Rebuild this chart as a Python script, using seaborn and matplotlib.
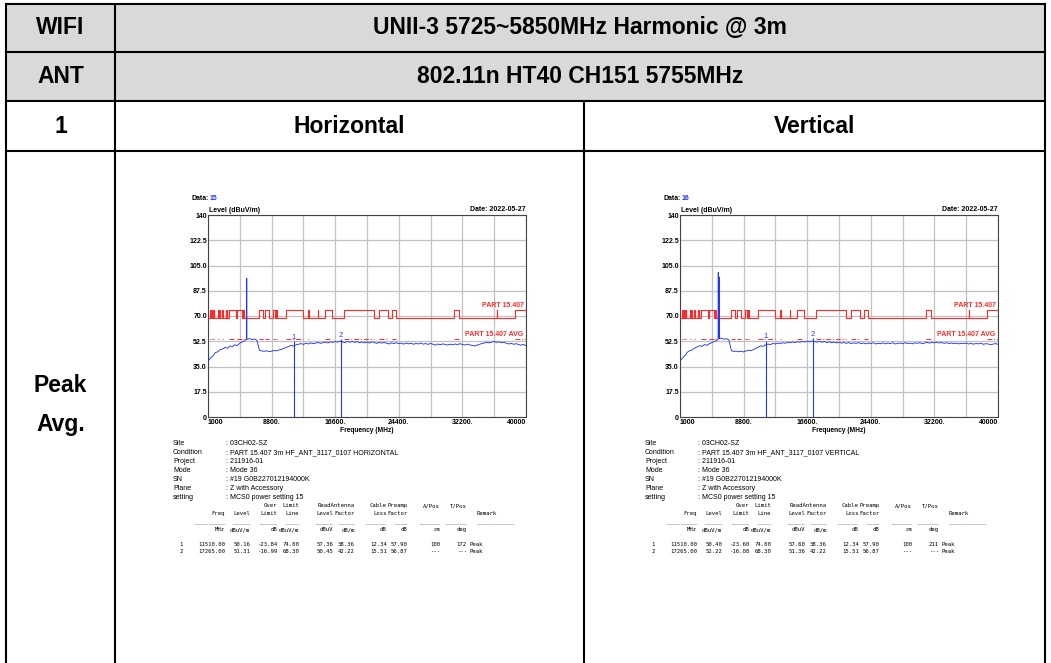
import numpy as np
import pandas as pd
import matplotlib
matplotlib.use("Agg")
import matplotlib.pyplot as plt
from matplotlib.patches import Rectangle
import seaborn as sns

# ---------------- data ----------------
band_title = "UNII-3 5725~5850MHz Harmonic @ 3m"
mode_title = "802.11n HT40 CH151 5755MHz"
row_labels = ["WIFI", "ANT", "1"]
pol_labels = ["Horizontal", "Vertical"]
det_labels = ["Peak", "Avg."]
data_ids = ["15", "16"]
test_date = "2022-05-27"

x_ticks = [1000, 8800, 16600, 24400, 32200, 40000]
x_ticklabels = ["1000", "8800.", "16600.", "24400.", "32200.", "40000"]
x_minor = [4900, 12700, 20500, 28300, 36100]
y_ticks = [0, 17.5, 35, 52.5, 70, 87.5, 105, 122.5, 140]
y_ticklabels = ["0", "17.5", "35.0", "52.5", "70.0", "87.5", "105.0", "122.5", "140"]

# restricted bands (MHz) where the PART 15.407 limit steps up
restricted_lo = [1300, 1435, 1645.5, 1660, 1718.8, 2200, 2310, 2483.5, 2690, 3260, 3332,
                 3345.8, 3600, 4500, 5350, 7250, 8025, 9000, 9300, 10600, 13250, 14470,
                 15350, 17700, 22010, 23600, 31200, 36430, 38600]
restricted_hi = [1427, 1626.5, 1646.5, 1710, 1722.2, 2300, 2390, 2500, 2900, 3267, 3339,
                 3358, 4400, 5150, 5460, 7750, 8500, 9200, 9500, 12700, 13400, 14500,
                 16200, 21400, 23120, 24000, 31800, 36500, 40000]
limit_restricted = 74.0
limit_other = 68.3
limit_avg = 54.0

trace_h = [38.5, 41.0, 42.3, 44.6, 45.2, 46.8, 47.1, 48.3, 47.6, 49.2, 48.8,
           50.1, 49.5, 51.2, 52.0, 52.8, 53.9, 54.3, 53.6, 54.1, 53.2,
           46.2, 45.8, 45.5, 45.9, 45.3, 45.6, 46.1, 45.8, 46.4, 46.9,
           47.5, 48.3, 48.9, 49.6, 49.2, 50.1,
           50.4, 50.9, 50.3, 51.1, 50.6, 51.4, 50.8, 51.2, 51.7, 51.0,
           51.6, 51.9, 51.3, 52.1, 51.7, 52.4, 51.9, 52.6, 52.0, 51.6,
           52.3, 51.8, 52.4, 51.7, 52.2, 51.5, 52.0, 51.4, 51.9, 51.3,
           52.1, 51.6, 51.0, 51.8, 51.2, 51.7, 51.1, 50.6, 51.4, 50.9,
           51.5, 50.8, 51.2, 50.5, 51.3, 50.7, 51.1, 50.4, 51.0, 50.6,
           51.2, 50.5, 50.9, 50.3, 51.0, 50.4, 49.8, 50.6, 50.1, 50.7,
           50.2, 49.9, 50.5, 50.0, 50.6, 50.2, 50.8, 50.3, 49.9, 50.5,
           50.0, 49.6, 49.2, 49.8, 50.4, 50.9, 51.3, 51.8, 51.4, 52.0,
           52.3, 51.7, 52.1, 51.5, 51.8, 51.1, 50.6, 51.0, 50.4, 50.8,
           50.2, 49.8, 50.3, 49.4]
trace_v = [38.9, 40.8, 42.6, 44.9, 46.0, 46.5, 47.8, 48.6, 49.4, 48.9, 50.2,
           49.7, 50.8, 51.5, 52.3, 53.1, 54.2, 54.6, 53.9, 54.3, 53.4,
           46.0, 45.4, 45.7, 45.2, 45.6, 45.1, 45.8, 46.3, 46.0, 46.7,
           47.6, 48.4, 49.3, 49.0, 50.0, 50.5,
           50.2, 51.0, 50.6, 51.3, 50.8, 51.5, 51.1, 51.8, 51.4, 52.0,
           51.6, 52.2, 51.8, 52.4, 52.0, 52.6, 52.1, 52.7, 52.2, 51.9,
           52.5, 51.8, 52.3, 51.6, 52.1, 51.5, 51.9, 51.3, 51.8, 51.2,
           51.7, 51.0, 51.6, 50.9, 51.4, 51.0, 51.6, 50.8, 51.3, 50.7,
           51.2, 50.9, 51.5, 50.6, 51.1, 50.8, 51.4, 50.7, 51.2, 50.9,
           51.5, 50.6, 51.0, 51.3, 50.8, 51.5, 50.9, 51.2, 50.7, 51.4,
           51.0, 51.6, 50.8, 51.3, 51.7, 51.2, 51.8, 51.4, 51.9, 51.3,
           51.6, 51.0, 51.5, 50.9, 51.3, 50.8, 51.2, 50.7, 51.1, 50.9,
           51.3, 50.6, 51.0, 50.5, 50.9, 50.7, 51.1, 50.4, 50.8, 50.6,
           50.2, 50.5, 50.9, 50.4]
spike_h_freq = [5735, 5750, 5765]
spike_h_level = [54.0, 96.2, 54.4]
spike_v_freq = [5680, 5695, 5710, 5785, 5800, 5815]
spike_v_level = [53.8, 100.3, 54.6, 54.9, 97.0, 54.5]

marker_freq = [11510.00, 17265.00]
marker_level_h = [50.16, 51.31]
marker_level_v = [50.40, 52.22]

info_labels = ["Site", "Condition", "Project", "Mode", "SN", "Plane", "setting"]
info_values_h = ["03CH02-SZ", "PART 15.407 3m HF_ANT_3117_0107 HORIZONTAL", "211916-01",
                 "Mode 36", "#19 G0B227012194000K", "Z with Accessory", "MCS0 power setting 15"]
info_values_v = ["03CH02-SZ", "PART 15.407 3m HF_ANT_3117_0107 VERTICAL", "211916-01",
                 "Mode 36", "#19 G0B227012194000K", "Z with Accessory", "MCS0 power setting 15"]

head1 = ["", "", "Over", "Limit", "", "ReadAntenna", "Cable", "Preamp", "A/Pos", "T/Pos"]
head2 = ["Freq", "Level", "Limit", "Line", "Level", "Factor", "Loss", "Factor", "", ""]
units = ["MHz", "dBuV/m", "dB", "dBuV/m", "dBuV", "dB/m", "dB", "dB", "cm", "deg"]
rows_h = [["11510.00", "50.16", "-23.84", "74.00", "57.36", "38.36", "12.34", "57.90", "100", "172"],
          ["17265.00", "51.31", "-16.99", "68.30", "50.45", "42.22", "15.51", "56.87", "---", "---"]]
rows_v = [["11510.00", "50.40", "-23.60", "74.00", "57.60", "38.36", "12.34", "57.90", "100", "211"],
          ["17265.00", "52.22", "-16.08", "68.30", "51.36", "42.22", "15.51", "56.87", "---", "---"]]
row_idx = ["1", "2"]
remarks = ["Peak", "Peak"]

# ---------------- style ----------------
sns.set_style("white")
plt.rcParams["font.family"] = ["Liberation Sans", "DejaVu Sans"]
plt.rcParams["text.color"] = "black"
plt.rcParams["axes.labelcolor"] = "black"
plt.rcParams["xtick.color"] = "black"
plt.rcParams["ytick.color"] = "black"

W, H = 1051, 663
fig = plt.figure(figsize=(W / 100, H / 100), dpi=100)
bg = fig.add_axes([0, 0, 1, 1])
bg.set_xlim(0, W)
bg.set_ylim(H, 0)
bg.axis("off")

# table
L, R, C1, C2 = 6, 1045, 115, 583.5
bg.add_patch(Rectangle((L, 4), R - L, 97, facecolor="#d9d9d9", edgecolor="none", zorder=0))
lw_t = 1.5
for y in [4, 52, 101, 151]:
    bg.plot([L, R], [y, y], color="black", lw=lw_t, solid_capstyle="projecting")
for x in [L, C1, R]:
    bg.plot([x, x], [4, H + 2], color="black", lw=lw_t, solid_capstyle="projecting")
bg.plot([C2, C2], [101, H + 2], color="black", lw=lw_t)

hfs = 16.5
hkw = dict(ha="center", va="center", fontsize=hfs, fontweight="bold", color="black")
cx_left = (L + C1) / 2
bg.text(cx_left, 28, row_labels[0], **hkw)
bg.text((C1 + R) / 2, 28, band_title, **hkw)
bg.text(cx_left, 76.5, row_labels[1], **hkw)
bg.text((C1 + R) / 2, 76.5, mode_title, **hkw)
bg.text(cx_left, 126.5, row_labels[2], **hkw)
bg.text((C1 + C2) / 2, 126.5, pol_labels[0], **hkw)
bg.text((C2 + R) / 2, 126.5, pol_labels[1], **hkw)
bg.text(cx_left, 385, det_labels[0], **hkw)
bg.text(cx_left, 424, det_labels[1], **hkw)

blue = "#2438f0"
red = "#ff2a2a"
grid_c = "#c2c2c2"
sfs = 5
mfs = 4.1


def panel(dx, trace, sp_f, sp_l, m_level, data_id, info_vals, rows):
    x0, x1, y0, y1 = 208 + dx, 526 + dx, 215, 417
    ax = fig.add_axes([x0 / W, 1 - y1 / H, (x1 - x0) / W, (y1 - y0) / H])
    ax.set_facecolor("white")

    freqs = np.linspace(1000, 40000, len(trace))
    f_all = np.concatenate([freqs, sp_f])
    l_all = np.concatenate([trace, sp_l])
    order = np.argsort(f_all, kind="stable")
    df = pd.DataFrame({"freq": f_all[order], "level": l_all[order]})

    # limit line (steps)
    xs, ys = [1000.0], [limit_other]
    for lo, hi in zip(restricted_lo, restricted_hi):
        xs += [lo, hi]
        ys += [limit_restricted, limit_other]
    sns.lineplot(x=xs, y=ys, ax=ax, color=red, lw=0.8, drawstyle="steps-post",
                 estimator=None, sort=False, zorder=3)
    # avg limit segments
    for lo, hi in zip(restricted_lo, restricted_hi):
        ax.hlines(limit_avg, lo, hi, colors=red, lw=0.7, linestyles=(0, (5, 2, 1, 2)), zorder=3)

    sns.lineplot(data=df, x="freq", y="level", ax=ax, color=blue, lw=0.65,
                 estimator=None, sort=False, zorder=4)

    for i, (mf, ml) in enumerate(zip(marker_freq, m_level)):
        ax.vlines(mf, 0, ml + 2.5, colors=blue, lw=0.8, zorder=4)
        ax.text(mf, ml + 2.8, str(i + 1), color=blue, fontsize=5.5, ha="center", va="bottom", zorder=5)

    ax.text(39700, 77.1, "PART 15.407", color=red, fontsize=sfs, fontweight="bold",
            ha="right", va="center")
    ax.text(39700, 57.0, "PART 15.407 AVG", color=red, fontsize=sfs, fontweight="bold",
            ha="right", va="center")

    ax.set_xlim(1000, 40000)
    ax.set_ylim(0, 140)
    ax.set_xticks(x_ticks)
    ax.set_xticklabels(x_ticklabels)
    ax.set_xticks(x_minor, minor=True)
    ax.set_yticks(y_ticks)
    ax.set_yticklabels(y_ticklabels)
    ax.grid(True, which="both", color=grid_c, lw=0.9)
    ax.set_axisbelow(True)
    ax.tick_params(axis="both", which="both", length=0, labelsize=sfs, colors="black")
    ax.tick_params(axis="x", pad=1.5)
    ax.tick_params(axis="y", pad=0.8)
    for t in ax.get_xticklabels() + ax.get_yticklabels():
        t.set_fontweight("bold")
    xt = ax.get_xticklabels()
    xt[0].set_ha("left")
    xt[-1].set_ha("right")
    ax.set_xlabel("")
    ax.set_ylabel("")
    for s in ax.spines.values():
        s.set_color("#444444")
        s.set_linewidth(0.8)

    # header texts
    bg.text(191 + dx, 198, "Data:", fontsize=sfs, fontweight="bold", ha="left", va="center")
    bg.text(210 + dx, 198, data_id, fontsize=sfs, fontweight="bold", color=blue, ha="left", va="center")
    bg.text(209 + dx, 210.5, "Level (dBuV/m)", fontsize=sfs, fontweight="bold", ha="left", va="center")
    bg.text(526 + dx, 209.5, "Date: " + test_date, fontsize=sfs, fontweight="bold", ha="right", va="center")
    bg.text(367 + dx, 430, "Frequency (MHz)", fontsize=4.8, fontweight="bold", ha="center", va="center")

    # info block
    for k, (lab, val) in enumerate(zip(info_labels, info_vals)):
        yy = 443.3 + k * 9.07
        bg.text(173 + dx, yy, lab, fontsize=sfs, ha="left", va="center")
        bg.text(226 + dx, yy, ": " + val, fontsize=sfs, ha="left", va="center")

    # result table (monospace)
    mono = dict(fontsize=mfs, family="DejaVu Sans Mono", va="center")
    col_r = [225, 250, 277.3, 299.3, 333.3, 355, 386.7, 407.3, 440, 466.7]
    dash_n = [9, 5, 5, 4, 5, 5, 6, 4, 6, 6]
    for j, xr in enumerate(col_r):
        if head1[j]:
            bg.text(xr + dx, 505.7, head1[j], ha="right", **mono)
        if head2[j]:
            bg.text(xr + dx, 513.7, head2[j], ha="right", **mono)
        bg.text(xr + dx, 523.3, "_" * dash_n[j], ha="right", fontsize=mfs,
                family="DejaVu Sans Mono", va="baseline")
        bg.text(xr + dx, 529.7, units[j], ha="right", **mono)
    bg.text(477 + dx, 513.7, "Remark", ha="left", **mono)
    bg.text(477 + dx, 523.3, "_" * 11, ha="left", fontsize=mfs,
            family="DejaVu Sans Mono", va="baseline")
    for r, (row, yy) in enumerate(zip(rows, [544.7, 551.5])):
        bg.text(183 + dx, yy, row_idx[r], ha="right", **mono)
        for j, xr in enumerate(col_r):
            bg.text(xr + dx, yy, row[j], ha="right", **mono)
        bg.text(470 + dx, yy, remarks[r], ha="left", **mono)


panel(0, trace_h, spike_h_freq, spike_h_level, marker_level_h, data_ids[0], info_values_h, rows_h)
panel(472, trace_v, spike_v_freq, spike_v_level, marker_level_v, data_ids[1], info_values_v, rows_v)

fig.savefig("out.png", dpi=100)
